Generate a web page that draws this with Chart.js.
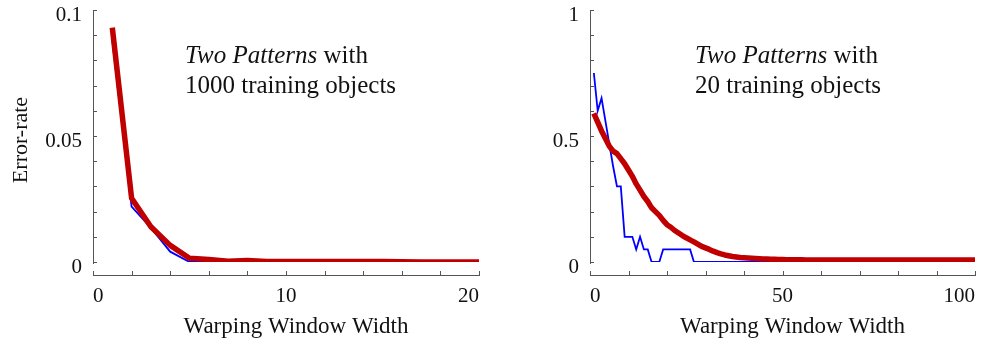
<!DOCTYPE html>
<html>
<head>
<meta charset="utf-8">
<script src="https://cdn.jsdelivr.net/npm/chart.js@4"></script>
<style>
  body { margin: 0; background: #fff; }
  #wrap { position: relative; width: 983px; height: 341px; }
  #left { position: absolute; left: 0; top: 0; }
  #right { position: absolute; left: 490px; top: 0; }
</style>
</head>
<body>
<div id="wrap">
  <canvas id="left" width="490" height="341"></canvas>
  <canvas id="right" width="493" height="341"></canvas>
</div>
<script>
// window widths
const leftX = [1, 2, 3, 4, 5, 6, 7, 8, 9, 10, 11, 12, 13, 14, 15, 16, 17, 18, 19, 20];
// 1000 training objects
const leftBlue = [0.088, 0.022, 0.0135, 0.0041, 0, 0, 0, 0, 0, 0, 0, 0, 0, 0, 0, 0, 0, 0, 0, 0];
const leftRed = [0.093, 0.0253, 0.014, 0.0066, 0.0015, 0.001, 0.0003, 0.0006, 0.0002, 0.0002,
                 0.0002, 0.0002, 0.0002, 0.0002, 0.0002, 0.0001, 0, 0, 0, 0];

const rightX = [];
for (let i = 1; i <= 100; i++) rightX.push(i);
// 20 training objects
const rightBlue = [0.75, 0.6, 0.65, 0.56, 0.47, 0.38, 0.3, 0.3, 0.1, 0.1,
                   0.1, 0.05, 0.1, 0.05, 0.05, 0, 0, 0, 0.05, 0.05,
                   0.05, 0.05, 0.05, 0.05, 0.05, 0.05, 0, 0, 0, 0,
                   0, 0, 0, 0, 0, 0, 0, 0, 0, 0,
                   0, 0, 0, 0, 0, 0, 0, 0, 0, 0,
                   0, 0, 0, 0, 0, 0, 0, 0, 0, 0,
                   0, 0, 0, 0, 0, 0, 0, 0, 0, 0,
                   0, 0, 0, 0, 0, 0, 0, 0, 0, 0,
                   0, 0, 0, 0, 0, 0, 0, 0, 0, 0,
                   0, 0, 0, 0, 0, 0, 0, 0, 0, 0];
const rightRed = [0.59, 0.555, 0.52, 0.49, 0.46, 0.44, 0.43, 0.41, 0.39, 0.365,
                  0.34, 0.31, 0.285, 0.26, 0.24, 0.215, 0.2, 0.185, 0.165, 0.148,
                  0.138, 0.125, 0.115, 0.105, 0.096, 0.088, 0.08, 0.071, 0.062, 0.056,
                  0.05, 0.043, 0.037, 0.032, 0.028, 0.025, 0.022, 0.02, 0.018, 0.017,
                  0.016, 0.015, 0.014, 0.013, 0.012, 0.012, 0.011, 0.011, 0.01, 0.01,
                  0.009, 0.009, 0.009, 0.009, 0.009, 0.008, 0.008, 0.008, 0.008, 0.008,
                  0.008, 0.008, 0.008, 0.008, 0.008, 0.008, 0.008, 0.008, 0.008, 0.008,
                  0.008, 0.008, 0.008, 0.008, 0.008, 0.008, 0.008, 0.008, 0.008, 0.008,
                  0.008, 0.008, 0.008, 0.008, 0.008, 0.008, 0.008, 0.008, 0.008, 0.008,
                  0.008, 0.008, 0.008, 0.008, 0.008, 0.008, 0.008, 0.008, 0.008, 0.008];

const SERIF = '"Liberation Serif", "Times New Roman", serif';
const AXIS = '#555';
const INK = '#111';

function pts(xs, ys) {
  return xs.map((x, i) => ({ x: x, y: ys[i] }));
}

// axis lines, inner ticks and texts (Mathematica style frame)
function framePlugin(cfg) {
  return {
    id: 'frame',
    afterDraw(chart) {
      const ctx = chart.ctx;
      const xs = chart.scales.x, ys = chart.scales.y;
      const x0 = xs.getPixelForValue(0);
      const x1 = xs.getPixelForValue(cfg.xMax);
      const yTop = ys.getPixelForValue(cfg.yMax);
      const yZero = ys.getPixelForValue(0);
      const xAxisY = yZero + 13;
      ctx.save();
      ctx.strokeStyle = AXIS;
      ctx.lineWidth = 1;
      ctx.beginPath();
      // y axis
      ctx.moveTo(x0 + 0.5, yTop);
      ctx.lineTo(x0 + 0.5, yZero + 2);
      for (let v = 0; v <= cfg.yMax + 1e-9; v += cfg.yMinor) {
        const p = Math.round(ys.getPixelForValue(v)) + 0.5;
        ctx.moveTo(x0, p);
        ctx.lineTo(x0 + 4, p);
      }
      // x axis
      ctx.moveTo(x0, xAxisY + 0.5);
      ctx.lineTo(x1 + 1, xAxisY + 0.5);
      for (let v = 0; v <= cfg.xMax + 1e-9; v += cfg.xMinor) {
        const p = Math.round(xs.getPixelForValue(v)) + 0.5;
        ctx.moveTo(p, xAxisY);
        ctx.lineTo(p, xAxisY - 4);
      }
      ctx.stroke();

      ctx.fillStyle = INK;
      // x title
      ctx.font = '23px ' + SERIF;
      ctx.textAlign = 'center';
      ctx.textBaseline = 'alphabetic';
      ctx.fillText('Warping Window Width', (x0 + x1) / 2 + 10, 333);

      // y title
      if (cfg.yTitle) {
        ctx.save();
        ctx.font = '22px ' + SERIF;
        ctx.translate(27, (yTop + yZero) / 2 + 4);
        ctx.rotate(-Math.PI / 2);
        ctx.fillText(cfg.yTitle, 0, 0);
        ctx.restore();
      }

      // annotation
      ctx.textAlign = 'left';
      ctx.font = 'italic 25px ' + SERIF;
      ctx.fillText('Two Patterns', cfg.noteX, 63);
      const w = ctx.measureText('Two Patterns').width;
      ctx.font = '25px ' + SERIF;
      ctx.fillText(' with', cfg.noteX + w, 63);
      ctx.fillText(cfg.noteLine2, cfg.noteX, 93);
      ctx.restore();
    }
  };
}

const fmt = v => String(Math.round(v * 1000) / 1000);

function makeChart(id, xs, blue, red, cfg) {
  new Chart(document.getElementById(id), {
    type: 'line',
    data: {
      datasets: [
        {
          data: pts(xs, red),
          borderColor: '#c00000',
          borderWidth: 5.5,
          borderJoinStyle: 'round',
          pointRadius: 0,
          order: 0
        },
        {
          data: pts(xs, blue),
          borderColor: '#0000ff',
          borderWidth: 1.8,
          pointRadius: 0,
          order: 1
        }
      ]
    },
    options: {
      responsive: false,
      devicePixelRatio: 1,
      animation: false,
      layout: { padding: { left: 0, right: cfg.padRight, top: 10, bottom: 0 } },
      plugins: { legend: { display: false }, tooltip: { enabled: false } },
      scales: {
        x: {
          type: 'linear',
          min: 0,
          max: cfg.xMax,
          grid: { display: false, drawTicks: false },
          border: { display: false },
          afterFit: s => {
            s.height = 79;
            s.paddingLeft = 0;
            s.paddingRight = 0;
          },
          ticks: {
            stepSize: cfg.xStep,
            align: 'inner',
            padding: 22,
            color: INK,
            font: { family: SERIF, size: 21 },
            callback: fmt
          }
        },
        y: {
          min: 0,
          max: cfg.yMax,
          grid: { display: false, drawTicks: false },
          border: { display: false },
          afterFit: s => {
            s.width = cfg.yWidth;
            s.paddingTop = 0;
            s.paddingBottom = 0;
          },
          ticks: {
            stepSize: cfg.yStep,
            padding: 11,
            labelOffset: 5,
            color: INK,
            font: { family: SERIF, size: 21 },
            callback: fmt
          }
        }
      }
    },
    plugins: [framePlugin(cfg)]
  });
}

makeChart('left', leftX, leftBlue, leftRed, {
  xMax: 20, xStep: 10, xMinor: 2,
  yMax: 0.1, yStep: 0.05, yMinor: 0.01,
  yWidth: 93, padRight: 11,
  yTitle: 'Error-rate',
  noteX: 185, noteLine2: '1000 training objects'
});

makeChart('right', rightX, rightBlue, rightRed, {
  xMax: 100, xStep: 50, xMinor: 10,
  yMax: 1, yStep: 0.5, yMinor: 0.1,
  yWidth: 100, padRight: 8,
  yTitle: null,
  noteX: 205, noteLine2: '20 training objects'
});
</script>
</body>
</html>
